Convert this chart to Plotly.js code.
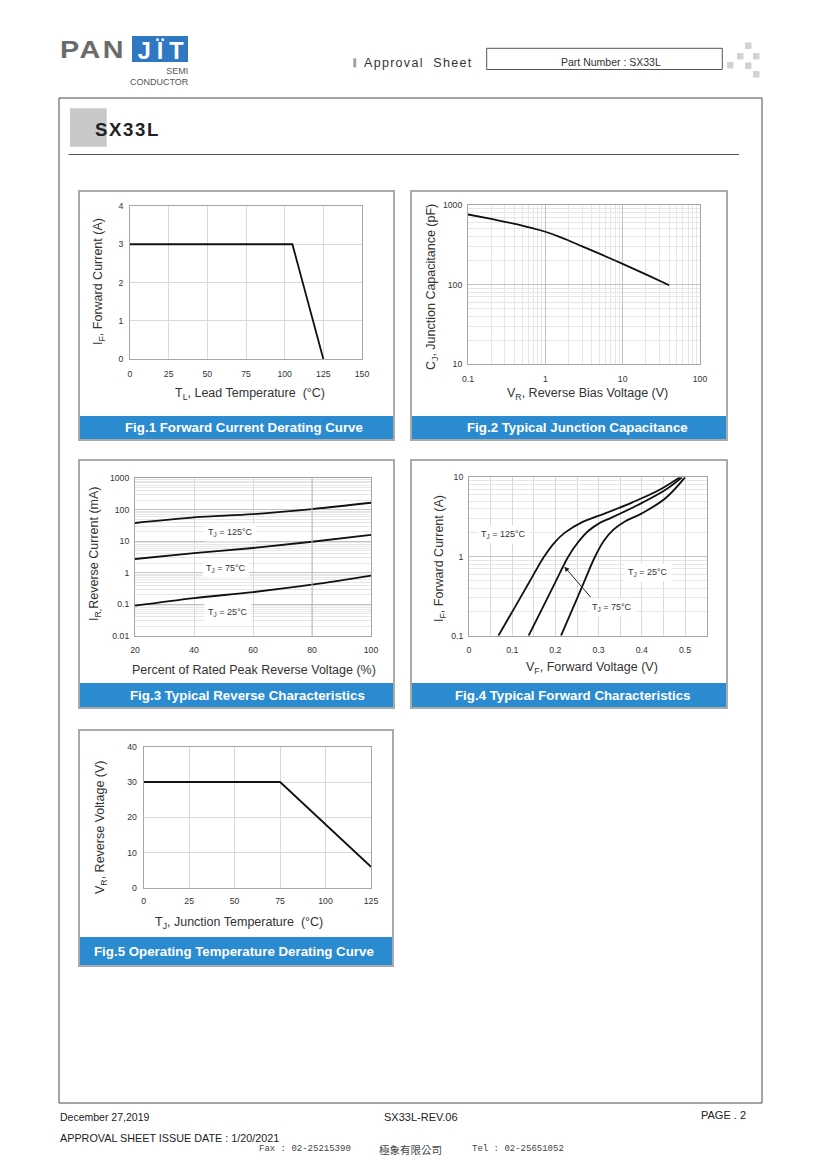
<!DOCTYPE html>
<html>
<head>
<meta charset="utf-8">
<script src="https://cdn.plot.ly/plotly-3.0.1.min.js"></script>
<style>
html,body{margin:0;padding:0;background:#fff;}
#page{position:relative;width:820px;height:1161px;overflow:hidden;background:#fff;}
#chart{position:absolute;left:0;top:0;width:820px;height:1161px;}
.ov{position:absolute;white-space:nowrap;font-family:"Liberation Sans",Arial,Helvetica,sans-serif;line-height:1;z-index:5;}
</style>
</head>
<body>
<div id="page">
<div id="chart"></div>
<div class="ov" style="left:60px;top:39.2px;font-size:23px;font-weight:bold;color:#6b6b6b;letter-spacing:2px;transform:scaleX(1.25);transform-origin:0 0;">PAN</div>
<div class="ov" style="left:131.7px;top:36px;width:56.6px;height:26px;background:#2f78c2;"></div>
<div class="ov" style="left:131.7px;top:39.6px;width:56.6px;text-align:center;font-size:23.5px;font-weight:bold;color:#fff;letter-spacing:6px;padding-left:6px;box-sizing:border-box;">JÏT</div>
<div class="ov" style="left:131.7px;top:67.3px;width:56.6px;text-align:right;font-size:9px;color:#555;">SEMI</div>
<div class="ov" style="left:126px;top:77.8px;width:62.3px;text-align:right;font-size:9px;color:#555;">CONDUCTOR</div>
<div class="ov" style="left:364px;top:56.7px;font-size:12.5px;color:#333;letter-spacing:1.3px;">Approval&nbsp; Sheet</div>
<div class="ov" style="left:95px;top:120.9px;font-size:18.6px;font-weight:bold;color:#222;letter-spacing:1.6px;">SX33L</div>
</div>
<script>
// ---------------- data ----------------
// Fig.1 Forward Current Derating Curve
const fig1_temp = [0, 105, 125];
const fig1_current = [3, 3, 0];
const fig1_xticks = [0, 25, 50, 75, 100, 125, 150];
const fig1_yticks = [0, 1, 2, 3, 4];

// Fig.2 Typical Junction Capacitance
const fig2_vr = [0.1, 0.2, 0.3, 0.5, 0.7, 1, 1.5, 2, 3, 5, 10, 20, 40];
const fig2_cj = [760, 667, 615, 552, 509, 461, 401, 358, 302, 244, 182, 134, 98];
const fig2_xticktext = ['0.1', '1', '10', '100'];
const fig2_yticktext = ['10', '100', '1000'];

// Fig.3 Typical Reverse Characteristics
const fig3_pct = [20, 40, 60, 80, 100];
const fig3_ir_125 = [37.7, 56.7, 72, 104, 165];
const fig3_ir_75 = [2.73, 4.2, 6.1, 9.6, 15.8];
const fig3_ir_25 = [0.091, 0.159, 0.245, 0.42, 0.81];
const fig3_xticks = [20, 40, 60, 80, 100];
const fig3_yticktext = ['0.01', '0.1', '1', '10', '100', '1000'];

// Fig.4 Typical Forward Characteristics
const fig4_vf_125 = [0.068, 0.105, 0.14, 0.174, 0.198, 0.222, 0.261, 0.315, 0.377, 0.438, 0.488];
const fig4_if_125 = [0.1, 0.223, 0.479, 1.0, 1.5, 2.0, 2.7, 3.5, 4.8, 6.8, 10];
const fig4_vf_75 = [0.138, 0.17, 0.2, 0.229, 0.252, 0.276, 0.305, 0.33, 0.392, 0.454, 0.493];
const fig4_if_75 = [0.1, 0.223, 0.474, 0.98, 1.5, 2.1, 2.7, 3.1, 4.5, 6.9, 10];
const fig4_vf_25 = [0.213, 0.24, 0.265, 0.29, 0.313, 0.335, 0.36, 0.40, 0.454, 0.5];
const fig4_if_25 = [0.1, 0.22, 0.457, 0.95, 1.6, 2.2, 2.75, 3.5, 5.4, 10];
const fig4_xticks = [0, 0.1, 0.2, 0.3, 0.4, 0.5];
const fig4_xticktext = ['0', '0.1', '0.2', '0.3', '0.4', '0.5'];
const fig4_xminor = [0.05, 0.15, 0.25, 0.35, 0.45];
const fig4_yticktext = ['0.1', '1', '10'];

// Fig.5 Operating Temperature Derating Curve
const fig5_temp = [0, 75, 125];
const fig5_vr = [30, 30, 6];
const fig5_xticks = [0, 25, 50, 75, 100, 125];
const fig5_yticks = [0, 10, 20, 30, 40];

// ---------------- helpers ----------------
const FONT = '"Liberation Sans", Arial, Helvetica, sans-serif';
const W = 820, H = 1161;
const px = x => x / W;
const py = y => 1 - y / H;
const log = v => Math.log10(v);

function decades(e0, e1) { const v = []; for (let e = e0; e <= e1; e++) v.push(Math.pow(10, e)); return v; }
function minorLog(e0, e1) { const v = []; for (let e = e0; e < e1; e++) for (let d = 2; d <= 9; d++) v.push(+(d * Math.pow(10, e)).toPrecision(6)); return v; }

const GRID = '#d9d9d9', GRID_MINOR = '#e6e6e6', GRID_MAJOR = '#c2c2c2';

function axis(domain, extra) {
  return Object.assign({
    domain: domain, showline: true, mirror: true, linecolor: '#a6a6a6', linewidth: 1,
    showgrid: true, gridcolor: GRID, gridwidth: 1, zeroline: false,
    ticks: 'outside', ticklen: 4, tickcolor: 'rgba(0,0,0,0)',
    tickfont: { family: FONT, size: 8.7, color: '#333' }, fixedrange: true
  }, extra);
}
function linAxis(domain, anchor, range, ticks, extra) {
  return axis(domain, Object.assign({ anchor: anchor, range: range, tickmode: 'array', tickvals: ticks, ticktext: ticks.map(String) }, extra || {}));
}
function logAxis(domain, anchor, e0, e1, labels, extra) {
  return axis(domain, Object.assign({
    anchor: anchor, type: 'log', range: [e0, e1], tickmode: 'array',
    tickvals: decades(e0, e1), ticktext: labels, gridcolor: GRID_MAJOR,
    minor: { tickmode: 'array', tickvals: minorLog(e0, e1), showgrid: true, gridcolor: GRID_MINOR, ticklen: 0 }
  }, extra || {}));
}

const LINE = { color: '#111', width: 1.8 };
function curve(x, y, xa, ya, shape) {
  return { x: x, y: y, xaxis: xa, yaxis: ya, type: 'scatter', mode: 'lines',
    line: Object.assign({}, LINE, shape ? { shape: 'spline', smoothing: 1 } : {}),
    showlegend: false, hoverinfo: 'skip' };
}

const traces = [
  curve(fig1_temp, fig1_current, 'x', 'y'),
  curve(fig2_vr, fig2_cj, 'x2', 'y2', true),
  curve(fig3_pct, fig3_ir_125, 'x3', 'y3', true),
  curve(fig3_pct, fig3_ir_75, 'x3', 'y3', true),
  curve(fig3_pct, fig3_ir_25, 'x3', 'y3', true),
  curve(fig4_vf_125, fig4_if_125, 'x4', 'y4', true),
  curve(fig4_vf_75, fig4_if_75, 'x4', 'y4', true),
  curve(fig4_vf_25, fig4_if_25, 'x4', 'y4', true),
  curve(fig5_temp, fig5_vr, 'x5', 'y5')
];

// ---------------- shapes ----------------
const shapes = [];
function rect(x0, y0, x1, y1, opt) {
  shapes.push(Object.assign({ type: 'rect', xref: 'paper', yref: 'paper', x0: px(x0), x1: px(x1), y0: py(y1), y1: py(y0), line: { width: 0 } }, opt));
}
function hline(x0, x1, y, color, w) {
  shapes.push({ type: 'line', xref: 'paper', yref: 'paper', x0: px(x0), x1: px(x1), y0: py(y), y1: py(y), line: { color: color, width: w } });
}
// page frame
rect(59, 98, 762, 1103, { line: { color: '#4a4a4a', width: 1 } });
// title block
rect(70, 108.3, 106.7, 146.7, { fillcolor: '#c8c8c8' });
hline(68.5, 739, 154.5, '#555', 1);
// header part number box & marker
rect(353.3, 58.3, 356.2, 67.3, { fillcolor: '#a0a0a0' });
rect(486.7, 48.3, 722.3, 69.5, { line: { color: '#555', width: 1 } });
[[745, 42.5], [737, 53], [753, 53], [727, 62], [745, 62.5], [753, 71]].forEach(s => rect(s[0], s[1], s[0] + 6.5, s[1] + 6.5, { fillcolor: '#d2d2d2' }));

// darker vertical grid line at 80 % in Fig.3
shapes.push({ type: 'line', xref: 'x3', yref: 'y3 domain', x0: 80, x1: 80, y0: 0, y1: 1, layer: 'above', line: { color: '#bcbcbc', width: 1 } });

// panels
const BLUE = '#2b8bd0';
const panels = [
  { x0: 79, y0: 191, x1: 394, y1: 440, bar: 416 },
  { x0: 411, y0: 191, x1: 727, y1: 440, bar: 416 },
  { x0: 79, y0: 460, x1: 394, y1: 708, bar: 683 },
  { x0: 411, y0: 460, x1: 727, y1: 708, bar: 683 },
  { x0: 79, y0: 730, x1: 393, y1: 966, bar: 937 }
];
panels.forEach(p => {
  rect(p.x0, p.bar, p.x1, p.y1, { fillcolor: BLUE });
  rect(p.x0, p.y0, p.x1, p.y1, { line: { color: '#aaaaaa', width: 2 } });
});

// ---------------- annotations ----------------
const ann = [];
function txt(x, y, text, o) {
  o = o || {};
  ann.push({
    xref: 'paper', yref: 'paper', x: px(x), y: py(y), text: text, showarrow: false,
    xanchor: o.xa || 'center', yanchor: 'middle', textangle: o.angle || 0,
    font: { family: o.family || FONT, size: o.size || 12.5, color: o.color || '#333', weight: o.weight || 'normal' }
  });
}
// axis titles
txt(99, 282, 'I<sub>F</sub>, Forward Current (A)', { angle: -90 });
txt(250, 394, 'T<sub>L</sub>, Lead Temperature\u00a0 (°C)');
txt(432, 287, 'C<sub>J</sub>, Junction Capacitance (pF)', { angle: -90 });
txt(587, 394, 'V<sub>R</sub>, Reverse Bias Voltage (V)');
txt(95, 554, 'I<sub>R,</sub>Reverse Current (mA)', { angle: -90 });
txt(254, 670, 'Percent of Rated Peak Reverse Voltage (%)');
txt(440, 559, 'I<sub>F</sub>, Forward Current (A)', { angle: -90 });
txt(592, 668, 'V<sub>F</sub>, Forward Voltage (V)');
txt(101, 828, 'V<sub>R</sub>, Reverse Voltage (V)', { angle: -90 });
txt(239, 923, 'T<sub>J</sub>, Junction Temperature\u00a0 (°C)');

// captions
const captions = ['Fig.1 Forward Current Derating Curve', 'Fig.2 Typical Junction Capacitance',
  'Fig.3 Typical Reverse Characteristics', 'Fig.4 Typical Forward Characteristics',
  'Fig.5 Operating Temperature Derating Curve'];
const capX = [244, 577, 247, 572, 234.5];
panels.forEach((p, i) => txt(capX[i], (p.bar + p.y1) / 2, captions[i], { size: 13.3, color: '#ffffff', weight: 'bold' }));

// curve labels
function lab(x, y, xa, ya, text) {
  ann.push({ xref: xa, yref: ya, x: x, y: y, text: text, showarrow: false, xanchor: 'center', yanchor: 'middle',
    bgcolor: '#ffffff', borderpad: 3, font: { family: FONT, size: 9, color: '#333' } });
}
lab(52.5, log(18.2), 'x3', 'y3', 'T<sub>J</sub> = 125°C');
lab(50.8, log(1.41), 'x3', 'y3', 'T<sub>J</sub> = 75°C');
lab(51.5, log(0.057), 'x3', 'y3', 'T<sub>J</sub> = 25°C');
lab(0.0795, log(1.87), 'x4', 'y4', 'T<sub>J</sub> = 125°C');
lab(0.415, log(0.625), 'x4', 'y4', 'T<sub>J</sub> = 25°C');
lab(0.33, log(0.226), 'x4', 'y4', 'T<sub>J</sub> = 75°C');
ann.push({ xref: 'x4', yref: 'y4', x: 0.2207, y: log(0.745), axref: 'x4', ayref: 'y4', ax: 0.284, ay: log(0.296),
  text: '', showarrow: true, arrowhead: 2, arrowsize: 1, arrowwidth: 1, arrowcolor: '#222', standoff: 0 });

// header / footer text
txt(611, 62.3, 'Part Number : SX33L', { size: 10.5, color: '#333' });
txt(58, 1117, 'December 27,2019', { xa: 'left', size: 10.5, color: '#222' });
txt(421, 1117, 'SX33L-REV.06', { size: 11, color: '#222' });
txt(748, 1115, 'PAGE . 2', { xa: 'right', size: 11, color: '#222' });
txt(58, 1138, 'APPROVAL SHEET ISSUE DATE : 1/20/2021', { xa: 'left', size: 10.8, color: '#222' });
txt(257, 1149, 'Fax : 02-25215390', { xa: 'left', size: 9, color: '#444', family: '"Liberation Mono", "DejaVu Sans Mono", monospace' });
txt(377, 1149, '極象有限公司', { xa: 'left', size: 10.5, color: '#444', family: '"Noto Sans CJK TC", "Noto Sans CJK SC", sans-serif' });
txt(470, 1149, 'Tel : 02-25651052', { xa: 'left', size: 9, color: '#444', family: '"Liberation Mono", "DejaVu Sans Mono", monospace' });

// ---------------- layout ----------------
const layout = {
  width: W, height: H, margin: { l: 0, r: 0, t: 0, b: 0, pad: 0 },
  paper_bgcolor: '#ffffff', plot_bgcolor: '#ffffff', showlegend: false,
  font: { family: FONT, color: '#333' },
  xaxis: linAxis([px(130), px(362)], 'y', [0, 150], fig1_xticks, { ticklen: 7 }),
  yaxis: linAxis([py(359), py(206)], 'x', [0, 4], fig1_yticks, { ticklen: 4 }),
  xaxis2: logAxis([px(468), px(700)], 'y2', -1, 2, fig2_xticktext, { ticklen: 7 }),
  yaxis2: logAxis([py(364), py(205)], 'x2', 1, 3, fig2_yticktext, { ticklen: 3 }),
  xaxis3: linAxis([px(135), px(371)], 'y3', [20, 100], fig3_xticks, { ticklen: 6 }),
  yaxis3: logAxis([py(636), py(478)], 'x3', -2, 3, fig3_yticktext, { ticklen: 3 }),
  xaxis4: axis([px(469), px(706.6)], { anchor: 'y4', range: [0, 0.55], tickmode: 'array', tickvals: fig4_xticks, ticktext: fig4_xticktext, ticklen: 6,
    minor: { tickmode: 'array', tickvals: fig4_xminor, showgrid: true, gridcolor: GRID, ticklen: 0 } }),
  yaxis4: logAxis([py(635.7), py(477.3)], 'x4', -1, 1, fig4_yticktext, { ticklen: 3 }),
  xaxis5: linAxis([px(143.7), px(371)], 'y5', [0, 125], fig5_xticks, { ticklen: 5 }),
  yaxis5: linAxis([py(888), py(746.7)], 'x5', [0, 40], fig5_yticks, { ticklen: 4 }),
  shapes: shapes,
  annotations: ann
};

Plotly.newPlot('chart', traces, layout, { staticPlot: true, displayModeBar: false });
</script>
</body>
</html>
